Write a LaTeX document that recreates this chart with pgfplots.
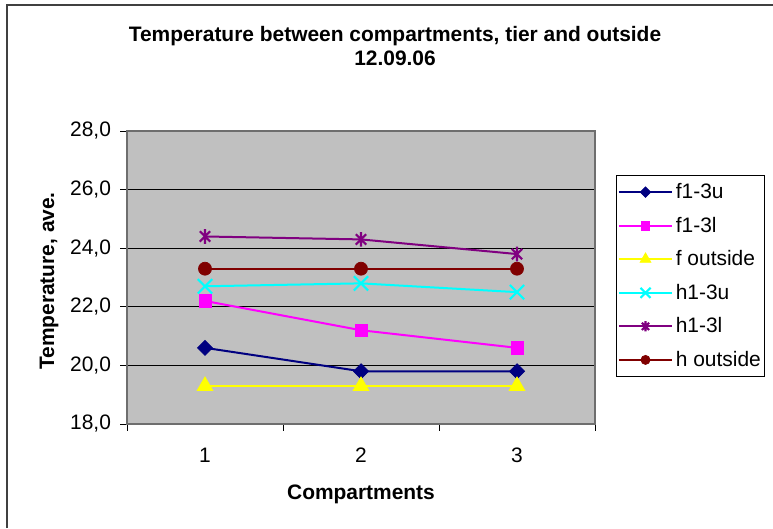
\documentclass[border=0pt]{standalone}
\usepackage{pgfplots}
\pgfplotsset{compat=1.18}
\usepackage{fontspec}
\setmainfont{Liberation Sans}
\definecolor{cNavy}{RGB}{0,0,128}
\definecolor{cMag}{RGB}{255,0,255}
\definecolor{cYel}{RGB}{255,255,0}
\definecolor{cCyan}{RGB}{0,255,255}
\definecolor{cPurp}{RGB}{128,0,128}
\definecolor{cDRed}{RGB}{128,0,0}
\definecolor{cBg}{RGB}{192,192,192}
\definecolor{cFrame}{RGB}{110,110,110}
\newcommand{\chfont}{\fontsize{15.7}{18}\selectfont}
\pgfdeclareplotmark{xstar}{%
  \pgfpathmoveto{\pgfqpoint{0pt}{\pgfplotmarksize}}%
  \pgfpathlineto{\pgfqpoint{0pt}{-\pgfplotmarksize}}%
  \pgfpathmoveto{\pgfqpoint{-.7071\pgfplotmarksize}{-.7071\pgfplotmarksize}}%
  \pgfpathlineto{\pgfqpoint{.7071\pgfplotmarksize}{.7071\pgfplotmarksize}}%
  \pgfpathmoveto{\pgfqpoint{-.7071\pgfplotmarksize}{.7071\pgfplotmarksize}}%
  \pgfpathlineto{\pgfqpoint{.7071\pgfplotmarksize}{-.7071\pgfplotmarksize}}%
  \pgfusepathqstroke}
\begin{document}
\begin{tikzpicture}
\useasboundingbox (0,0) rectangle (579.75pt,-396pt);
\draw[line width=1.2pt, black!75] (5.25pt,-396pt) -- (5.25pt,-3.75pt) -- (579.75pt,-3.75pt);
\node[font=\chfont\bfseries, anchor=base, inner sep=0pt] at (296.25pt,-30.75pt) {Temperature between compartments, tier and outside};
\node[font=\chfont\bfseries, anchor=base, inner sep=0pt] at (296.25pt,-48.75pt) {12.09.06};
\node[font=\chfont\bfseries, rotate=90, anchor=base, inner sep=0pt] at (40.5pt,-210.75pt) {Temperature, ave.};
\node[font=\chfont\bfseries, anchor=base, inner sep=0pt] at (270.75pt,-374.25pt) {Compartments};
\begin{axis}[
  at={(95.25pt,-318pt)}, anchor=south west,
  scale only axis, width=351pt, height=219.75pt,
  xmin=0.5, xmax=3.5, ymin=18, ymax=28,
  xtick={0.5,1.5,2.5,3.5}, xticklabels={1,2,3}, x tick label as interval,
  ytick={18,20,22,24,26,28},
  ymajorgrids, grid style={black, line width=0.75pt},
  axis background/.style={fill=cBg},
  axis line style={draw=cFrame, line width=1.2pt},
  tick align=outside, tick pos=left, major tick length=5pt,
  tick style={black, line width=0.75pt},
  /pgf/number format/assume math mode=true,
  yticklabel style={/pgf/number format/fixed, /pgf/number format/fixed zerofill,
    /pgf/number format/precision=1, /pgf/number format/use comma, xshift=-3.5pt},
  ticklabel style={font=\chfont},
  xticklabel style={yshift=-9.5pt},
  legend style={at={(1.0449,0.8498)}, anchor=north west, draw=black, line width=0.75pt,
    font=\chfont, row sep=8.3pt, inner xsep=1pt, inner ysep=4pt, cells={anchor=west}},
  legend image code/.code={\draw[mark repeat=2, mark phase=2, every mark/.append style={scale=0.7}]
    plot coordinates {(0pt,0pt) (20pt,0pt) (40pt,0pt)};},
  clip=false,
]
\addplot[color=cNavy, line width=1.5pt, mark=square*, mark size=4pt,
  mark options={rotate=45, solid, line width=0.5pt}] coordinates {(1,20.6) (2,19.8) (3,19.8)};
\addlegendentry{f1-3u}
\addplot[color=cMag, line width=1.5pt, mark=square*, mark size=4.6pt,
  mark options={solid, line width=0.5pt}] coordinates {(1,22.2) (2,21.2) (3,20.6)};
\addlegendentry{f1-3l}
\addplot[color=cYel, line width=1.5pt, mark=triangle*, mark size=6.8pt,
  mark options={solid, line width=0.5pt}] coordinates {(1,19.3) (2,19.3) (3,19.3)};
\addlegendentry{f outside}
\addplot[color=cCyan, line width=1.5pt, mark=x, mark size=7.6pt,
  mark options={solid, line width=1.6pt}] coordinates {(1,22.7) (2,22.8) (3,22.5)};
\addlegendentry{h1-3u}
\addplot[color=cPurp, line width=1.5pt, mark=xstar, mark size=5.5pt,
  mark options={solid, line width=1.6pt}] coordinates {(1,24.4) (2,24.3) (3,23.8)};
\addlegendentry{h1-3l}
\addplot[color=cDRed, line width=1.5pt, mark=*, mark size=4.9pt,
  mark options={solid, line width=0.5pt}] coordinates {(1,23.3) (2,23.3) (3,23.3)};
\addlegendentry{h outside}
\end{axis}
\end{tikzpicture}
\end{document}
